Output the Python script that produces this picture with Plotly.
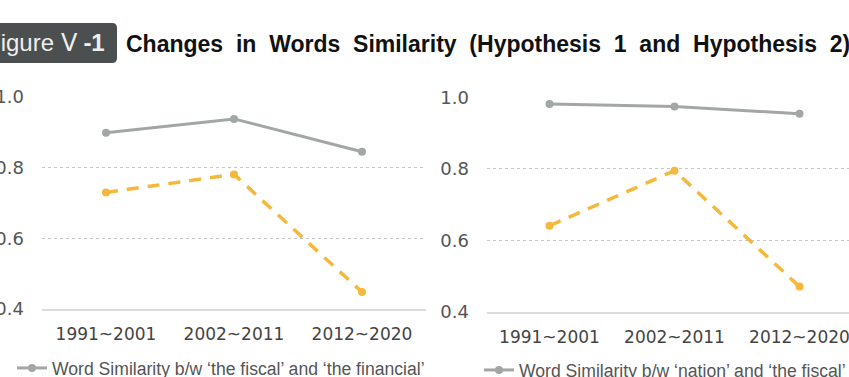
import plotly.graph_objects as go

W, H = 849, 377

categories = ["1991~2001", "2002~2011", "2012~2020"]
h1_fiscal_financial = [0.899, 0.938, 0.845]
h1_second = [0.730, 0.781, 0.448]
h2_nation_fiscal = [0.981, 0.974, 0.954]
h2_second = [0.641, 0.795, 0.471]
ytick_vals = [0.4, 0.6, 0.8, 1.0]
ytick_text = ["0.4", "0.6", "0.8", "1.0"]
legend_left = "Word Similarity b/w ‘the fiscal’ and ‘the financial’"
legend_right = "Word Similarity b/w ‘nation’ and ‘the fiscal’"
title_box = "Figure&nbsp;Ⅴ&nbsp;<b>-1</b>"
title_text = "<b>Changes&nbsp; in&nbsp; Words&nbsp; Similarity&nbsp; (Hypothesis&nbsp; 1&nbsp; and&nbsp; Hypothesis&nbsp; 2)</b>"

GRAY = "#a2a6a5"
ORANGE = "#f5b83a"

def px(x):
    return x / W

def py(y):
    return (H - y) / H

fig = go.Figure()

fig.add_trace(go.Scatter(
    x=categories, y=h1_fiscal_financial, mode="lines+markers", name=legend_left,
    line=dict(color=GRAY, width=3), marker=dict(size=8, color=GRAY),
    xaxis="x", yaxis="y", legend="legend", cliponaxis=False))
fig.add_trace(go.Scatter(
    x=categories, y=h1_second, mode="lines+markers", showlegend=False,
    line=dict(color=ORANGE, width=3.5, dash="12px,9px"), marker=dict(size=8, color=ORANGE),
    xaxis="x", yaxis="y", cliponaxis=False))
fig.add_trace(go.Scatter(
    x=categories, y=h2_nation_fiscal, mode="lines+markers", name=legend_right,
    line=dict(color=GRAY, width=3), marker=dict(size=8, color=GRAY),
    xaxis="x2", yaxis="y2", legend="legend2", cliponaxis=False))
fig.add_trace(go.Scatter(
    x=categories, y=h2_second, mode="lines+markers", showlegend=False,
    line=dict(color=ORANGE, width=3.5, dash="12px,9px"), marker=dict(size=8, color=ORANGE),
    xaxis="x2", yaxis="y2", cliponaxis=False))

xcommon = dict(type="category", showgrid=False, showline=True, linecolor="#dcdcdc",
               linewidth=2, ticks="", zeroline=False, ticklabelstandoff=9, automargin=False,
               tickfont=dict(family="DejaVu Sans", size=17, color="#444444"))
ycommon = dict(range=[0.4, 1.0], tickvals=ytick_vals, ticktext=ytick_text, showgrid=True,
               gridcolor="#c6c6c6", griddash="dot", gridwidth=1.3, zeroline=False, showline=False,
               ticks="", ticklabelstandoff=17, automargin=False,
               tickfont=dict(family="DejaVu Sans", size=18, color="#555555"))

fig.update_layout(
    template="none",
    width=W, height=H, margin=dict(l=0, r=0, t=0, b=0, pad=0, autoexpand=False),
    paper_bgcolor="white", plot_bgcolor="white",
    xaxis=dict(domain=[px(42), px(426)], range=[-0.5, 2.5], anchor="y", **xcommon),
    yaxis=dict(domain=[py(309), py(97)], anchor="x", **ycommon),
    xaxis2=dict(domain=[px(487), 1.0], range=[-0.5, -0.5 + (W - 487) / 125.0], anchor="y2", **xcommon),
    yaxis2=dict(domain=[py(312), py(97.3)], anchor="x2", **ycommon),
    legend=dict(x=px(12), y=py(368), xanchor="left", yanchor="middle",
                font=dict(family="Liberation Sans", size=17.6, color="#555555"),
                bgcolor="rgba(0,0,0,0)", borderwidth=0),
    legend2=dict(x=px(479), y=py(370), xanchor="left", yanchor="middle",
                 font=dict(family="Liberation Sans", size=17.6, color="#555555"),
                 bgcolor="rgba(0,0,0,0)", borderwidth=0),
    showlegend=True,
)

# rounded dark title box
x0, x1, y0, y1, r = -20, 117, 23, 63, 5
rx, ry = r / W, r / H
X0, X1, Y0, Y1 = px(x0), px(x1), py(y1), py(y0)
path = (f"M {X0},{Y0} L {X1 - rx},{Y0} Q {X1},{Y0} {X1},{Y0 + ry} "
        f"L {X1},{Y1 - ry} Q {X1},{Y1} {X1 - rx},{Y1} L {X0},{Y1} Z")
fig.add_shape(type="path", path=path, xref="paper", yref="paper",
              fillcolor="#4b4f4f", line=dict(width=0), layer="above")

fig.add_annotation(text=title_box, x=px(-16), y=py(43), xref="paper", yref="paper",
                   xanchor="left", yanchor="middle", showarrow=False,
                   font=dict(family="Liberation Sans", size=24, color="#eeeeee"))
fig.add_annotation(text=title_text, x=px(124), y=py(44), xref="paper", yref="paper",
                   xanchor="left", yanchor="middle", showarrow=False,
                   font=dict(family="Liberation Sans", size=23, color="#111111"))

fig.write_html("out.html")
